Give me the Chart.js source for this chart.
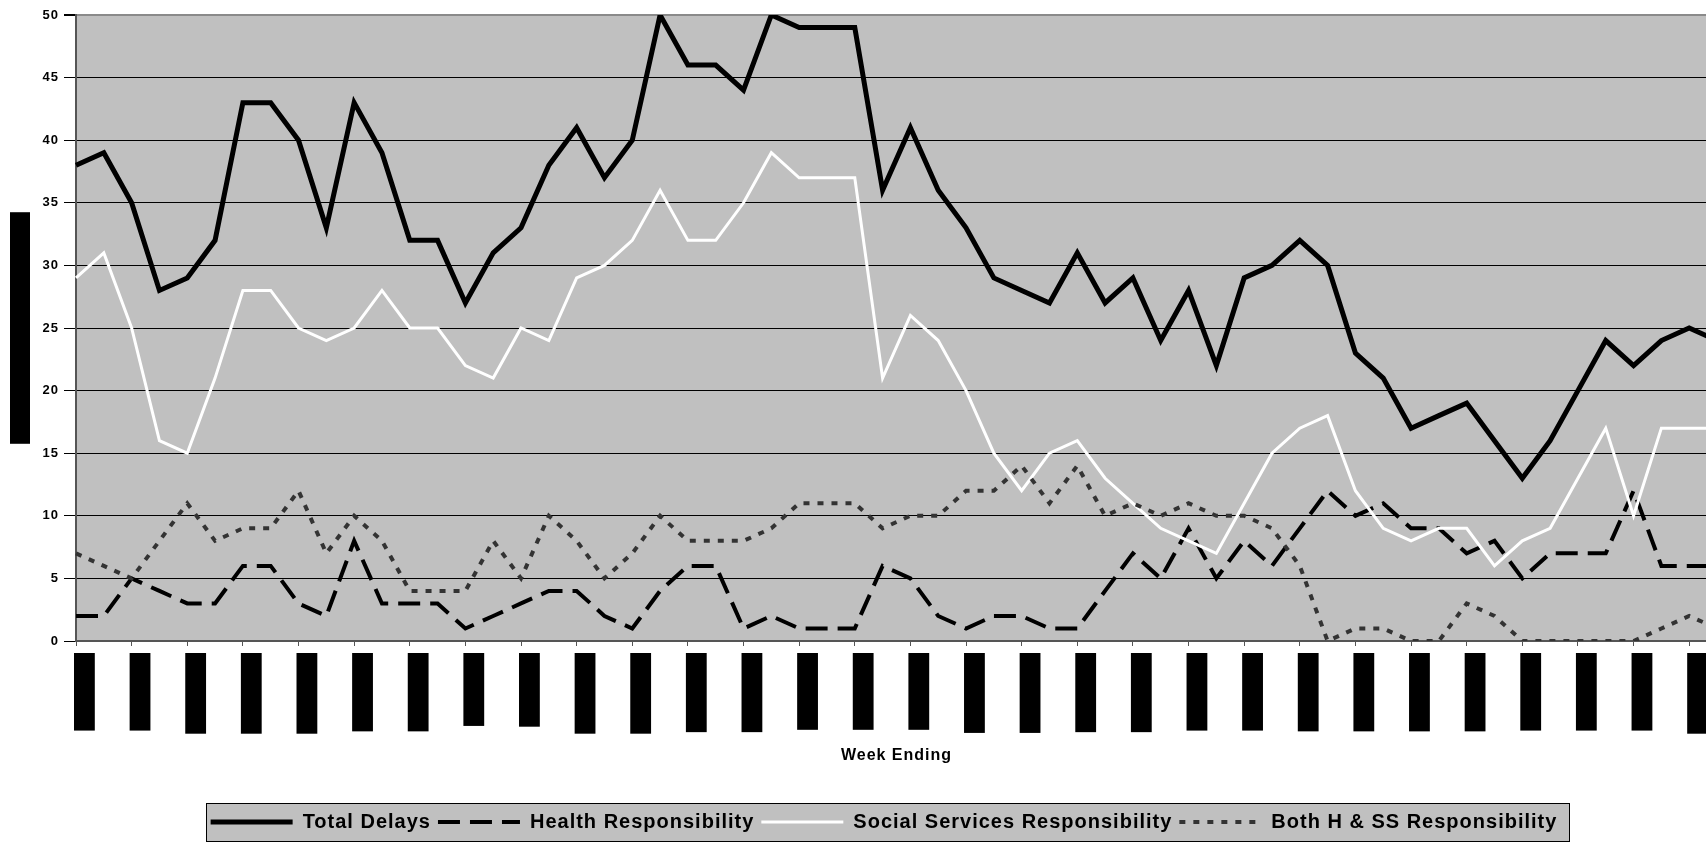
<!DOCTYPE html>
<html>
<head>
<meta charset="utf-8">
<script src="https://cdn.jsdelivr.net/npm/chart.js@4.4.1/dist/chart.umd.min.js"></script>
<style>
  html, body { margin: 0; padding: 0; overflow: hidden; background: #fff; }
  #wrap { width: 1772px; height: 843px; }
</style>
</head>
<body>
<div id="wrap"><canvas id="myChart" width="1772" height="843"></canvas></div>
<script>
const ctx = document.getElementById('myChart');

// Week ending dates (x axis categories)
const weeks = [
  '04-Apr-03', '11-Apr-03', '18-Apr-03', '25-Apr-03', '02-May-03', '09-May-03', '16-May-03', '23-May-03',
  '30-May-03', '06-Jun-03', '13-Jun-03', '20-Jun-03', '27-Jun-03', '04-Jul-03', '11-Jul-03', '18-Jul-03',
  '25-Jul-03', '01-Aug-03', '08-Aug-03', '15-Aug-03', '22-Aug-03', '29-Aug-03', '05-Sep-03', '12-Sep-03',
  '19-Sep-03', '26-Sep-03', '03-Oct-03', '10-Oct-03', '17-Oct-03', '24-Oct-03', '31-Oct-03', '07-Nov-03',
  '14-Nov-03', '21-Nov-03', '28-Nov-03', '05-Dec-03', '12-Dec-03', '19-Dec-03', '26-Dec-03', '02-Jan-04',
  '09-Jan-04', '16-Jan-04', '23-Jan-04', '30-Jan-04', '06-Feb-04', '13-Feb-04', '20-Feb-04', '27-Feb-04',
  '05-Mar-04', '12-Mar-04', '19-Mar-04', '26-Mar-04', '02-Apr-04', '09-Apr-04', '16-Apr-04', '23-Apr-04',
  '30-Apr-04', '07-May-04', '14-May-04', '21-May-04'
];

// Weekly counts
const totalDelays = [38, 39, 35, 28, 29, 32, 43, 43, 40, 33, 43, 39, 32, 32, 27,
  31, 33, 38, 41, 37, 40, 50, 46, 46, 44, 50, 49, 49, 49, 36,
  41, 36, 33, 29, 28, 27, 31, 27, 29, 24, 28, 22, 29, 30, 32,
  30, 23, 21, 17, 18, 19, 16, 13, 16, 20, 24, 22, 24, 25, 24];
const healthResp = [2, 2, 5, 4, 3, 3, 6, 6, 3, 2, 8, 3, 3, 3, 1,
  2, 3, 4, 4, 2, 1, 4, 6, 6, 1, 2, 1, 1, 1, 6,
  5, 2, 1, 2, 2, 1, 1, 4, 7, 5, 9, 5, 8, 6, 9,
  12, 10, 11, 9, 9, 7, 8, 5, 7, 7, 7, 12, 6, 6, 6];
const socialResp = [29, 31, 25, 16, 15, 21, 28, 28, 25, 24, 25, 28, 25, 25, 22,
  21, 25, 24, 29, 30, 32, 36, 32, 32, 35, 39, 37, 37, 37, 21,
  26, 24, 20, 15, 12, 15, 16, 13, 11, 9, 8, 7, 11, 15, 17,
  18, 12, 9, 8, 9, 9, 6, 8, 9, 13, 17, 10, 17, 17, 17];
const bothResp = [7, 6, 5, 8, 11, 8, 9, 9, 12, 7, 10, 8, 4, 4, 4,
  8, 5, 10, 8, 5, 7, 10, 8, 8, 8, 9, 11, 11, 11, 9,
  10, 10, 12, 12, 14, 11, 14, 10, 11, 10, 11, 10, 10, 9, 6,
  0, 1, 1, 0, 0, 3, 2, 0, 0, 0, 0, 0, 1, 2, 1];

const yTitle = 'Number of Delayed Discharges';

Chart.defaults.font.family = '"Liberation Sans", Arial, sans-serif';
Chart.defaults.color = '#000';

// grey plot area, legend frame, boxed y title, spaced text like the Excel original
const excelLook = {
  id: 'excelLook',
  beforeLayout(chart) {
    chart.ctx.letterSpacing = '1px';
  },
  afterUpdate(chart) {
    // the legend sits under the whole chart, not just the visible part
    const lg = chart.legend;
    const shift = 884 - (lg.left + lg.right) / 2;
    lg.left += shift;
    lg.right += shift;
    lg.adjustHitBoxes();
  },
  beforeDraw(chart) {
    const c = chart.ctx;
    const a = chart.chartArea;
    c.letterSpacing = '1px';
    c.save();
    c.fillStyle = '#c0c0c0';
    c.fillRect(a.left, a.top, a.right - a.left, a.bottom - a.top);

    const boxes = chart.legend.legendHitBoxes;
    const first = boxes[0];
    const last = boxes[boxes.length - 1];
    const x0 = Math.round(first.left - 5);
    const x1 = Math.round(last.left + last.width + 12);
    const y0 = Math.round(chart.legend.top - 2);
    const y1 = chart.height - 2;
    c.fillRect(x0, y0, x1 - x0, y1 - y0);
    c.strokeStyle = '#000';
    c.lineWidth = 1;
    c.strokeRect(x0 + 0.5, y0 + 0.5, x1 - x0, y1 - y0);
    c.restore();
  },
  afterDraw(chart) {
    const c = chart.ctx;
    const a = chart.chartArea;
    c.save();
    c.font = 'bold 13.5px "Liberation Sans", Arial, sans-serif';
    const w = c.measureText(yTitle).width;
    c.translate(20, (a.top + a.bottom) / 2);
    c.rotate(-Math.PI / 2);
    c.fillStyle = '#000';
    c.fillRect(-w / 2 - 2, -10, w + 4, 20);
    c.textAlign = 'center';
    c.textBaseline = 'middle';
    c.fillText(yTitle, 0, 0);
    c.restore();
  }
};

new Chart(ctx, {
  type: 'line',
  data: {
    labels: weeks,
    datasets: [
      { label: 'Total Delays', data: totalDelays, borderColor: '#000', borderWidth: 5, order: 4 },
      { label: 'Health Responsibility', data: healthResp, borderColor: '#000', borderWidth: 4, borderDash: [22, 10], order: 3 },
      { label: 'Social Services Responsibility', data: socialResp, borderColor: '#fff', borderWidth: 3, order: 2 },
      { label: 'Both H & SS Responsibility', data: bothResp, borderColor: '#333', borderWidth: 4, borderDash: [6, 8], order: 1 }
    ]
  },
  options: {
    responsive: false,
    animation: false,
    devicePixelRatio: 1,
    layout: { padding: { top: 15, right: 55, bottom: 1, left: 0 } },
    elements: {
      line: { tension: 0, fill: false, borderJoinStyle: 'miter' },
      point: { radius: 0, hoverRadius: 0 }
    },
    scales: {
      x: {
        afterFit: scale => { scale.height = 164; },
        border: { color: '#555', width: 2 },
        grid: {
          drawOnChartArea: false,
          tickLength: 5,
          tickColor: c => (c.index % 2 ? 'rgba(0,0,0,0)' : '#555')
        },
        ticks: {
          autoSkip: false,
          minRotation: 90,
          maxRotation: 90,
          padding: 9,
          color: '#000',
          font: { size: 14, weight: 'bold' },
          showLabelBackdrop: c => c.index % 2 === 0,
          backdropColor: '#000',
          backdropPadding: 2,
          callback: (value, index) => (index % 2 ? '' : weeks[index])
        },
        title: {
          display: true,
          text: 'Week Ending',
          color: '#000',
          font: { size: 16, weight: 'bold' },
          padding: { top: 10, bottom: 40 }
        }
      },
      y: {
        min: 0,
        max: 50,
        afterFit: scale => { scale.width = 76; },
        border: { color: '#555', width: 2 },
        grid: {
          color: c => (c.tick.value === 50 ? '#8a8a8a' : '#000'),
          lineWidth: c => (c.tick.value === 50 ? 2 : 1),
          tickColor: '#000',
          tickLength: 12
        },
        ticks: {
          stepSize: 5,
          padding: 5,
          color: '#000',
          font: { size: 13, weight: 'bold' }
        }
      }
    },
    plugins: {
      tooltip: { enabled: false },
      legend: {
        position: 'bottom',
        labels: {
          usePointStyle: true,
          pointStyleWidth: 82,
          padding: 7,
          color: '#000',
          font: { size: 20, weight: 'bold' },
          sort: (a, b) => a.datasetIndex - b.datasetIndex,
          generateLabels: chart => chart.data.datasets.map((ds, i) => ({
            text: ds.label,
            datasetIndex: i,
            fillStyle: ds.borderColor,
            strokeStyle: ds.borderColor,
            lineWidth: ds.borderWidth,
            lineDash: ds.borderDash || [],
            pointStyle: 'line',
            fontColor: '#000',
            hidden: false
          }))
        }
      }
    }
  },
  plugins: [excelLook]
});
</script>
</body>
</html>
